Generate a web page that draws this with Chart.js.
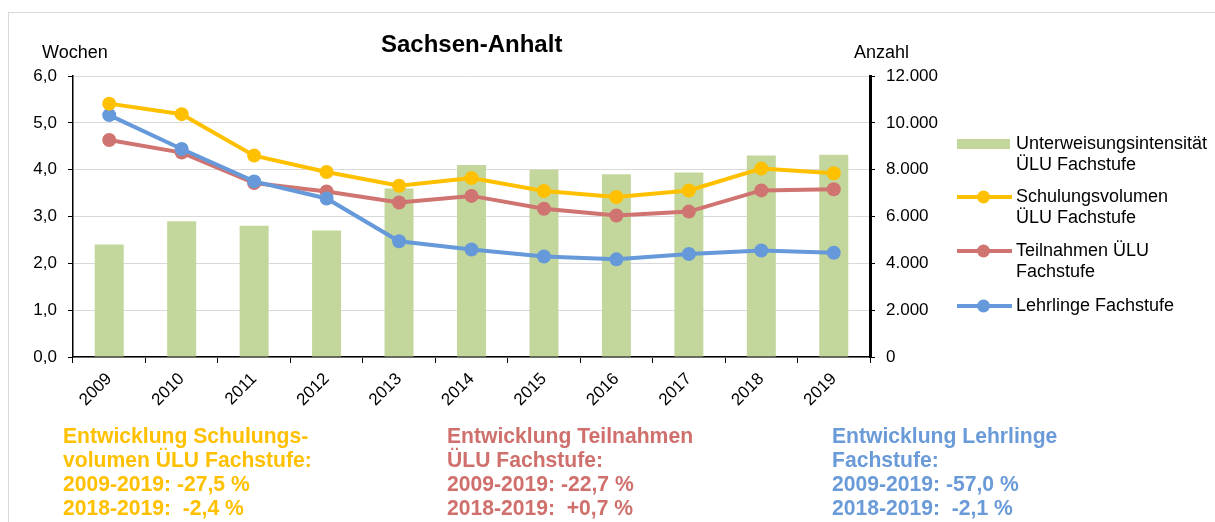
<!DOCTYPE html>
<html lang="de">
<head>
<meta charset="utf-8">
<script src="https://cdn.jsdelivr.net/npm/chart.js@4"></script>
<style>
  body { margin: 0; background: #fff; font-family: "Liberation Sans", Arial, sans-serif; }
  #wrap { position: relative; width: 1215px; height: 522px; overflow: hidden; }
  #chart { position: absolute; left: 0; top: 0; }
  .frame { position: absolute; left: 8px; top: 12px; width: 1300px; height: 600px;
           border-left: 1px solid #d9d9d9; border-top: 1px solid #d9d9d9; }
  .lbl { position: absolute; font-size: 18px; line-height: 18px; color: #000; white-space: nowrap; }
  .title { position: absolute; left: 381px; top: 32px; font-size: 24px; line-height: 24px; font-weight: bold; }
  .legend { position: absolute; left: 957px; top: 0; font-size: 18px; line-height: 20.7px; }
  .item { position: absolute; left: 0; white-space: nowrap; }
  .item svg { position: absolute; left: 0; top: 0; }
  .item span { position: absolute; left: 59px; top: 0; }
  .note { position: absolute; top: 424px; font-weight: bold; font-size: 22px; line-height: 24px;
          white-space: nowrap; transform: scaleX(0.96); transform-origin: left top; }
</style>
</head>
<body>
<div id="wrap">
  <div class="frame"></div>
  <canvas id="chart" width="1215" height="522"></canvas>
  <div class="title">Sachsen-Anhalt</div>
  <div class="lbl" style="left:42px;top:43px;">Wochen</div>
  <div class="lbl" style="left:854px;top:43px;">Anzahl</div>
  <div class="legend" id="legend"></div>
  <div class="note" style="left:63px;color:#FFC000;">Entwicklung Schulungs-<br>volumen ÜLU Fachstufe:<br>2009-2019: -27,5 %<br>2018-2019: &nbsp;-2,4 %</div>
  <div class="note" style="left:447px;color:#CF706D;">Entwicklung Teilnahmen<br>ÜLU Fachstufe:<br>2009-2019: -22,7 %<br>2018-2019: &nbsp;+0,7 %</div>
  <div class="note" style="left:832px;color:#6A9BD8;">Entwicklung Lehrlinge<br>Fachstufe:<br>2009-2019: -57,0 %<br>2018-2019: &nbsp;-2,1 %</div>
</div>
<script>
// Data
const years = ['2009', '2010', '2011', '2012', '2013', '2014', '2015', '2016', '2017', '2018', '2019'];
const intensitaet = [2.4, 2.9, 2.8, 2.7, 3.6, 4.1, 4.0, 3.9, 3.94, 4.3, 4.32];      // Wochen
const schulungsvolumen = [10820, 10370, 8600, 7900, 7310, 7640, 7090, 6830, 7110, 8045, 7850];
const teilnahmen = [9270, 8730, 7430, 7070, 6600, 6880, 6330, 6040, 6210, 7115, 7165];
const lehrlinge = [10330, 8880, 7500, 6770, 4940, 4590, 4290, 4170, 4400, 4545, 4450];

const GREEN = '#C3D69B', YELLOW = '#FFC000', RED = '#CF7471', BLUE = '#6699D9';

const deNum = v => String(v).replace(/\B(?=(\d{3})+(?!\d))/g, '.');
const tickFont = { family: 'Liberation Sans', size: 17 };

function lineSet(label, data, color, order) {
  return {
    type: 'line', label, data, yAxisID: 'yR', order,
    borderColor: color, backgroundColor: color, borderWidth: 4,
    pointRadius: 7, pointBorderWidth: 0, pointBackgroundColor: color, tension: 0
  };
}

new Chart(document.getElementById('chart'), {
  type: 'bar',
  data: {
    labels: years,
    datasets: [
      lineSet('Schulungsvolumen ÜLU Fachstufe', schulungsvolumen, YELLOW, 0),
      lineSet('Lehrlinge Fachstufe', lehrlinge, BLUE, 1),
      lineSet('Teilnahmen ÜLU Fachstufe', teilnahmen, RED, 2),
      {
        type: 'bar', label: 'Unterweisungsintensität ÜLU Fachstufe', data: intensitaet,
        yAxisID: 'yL', order: 3, backgroundColor: GREEN,
        categoryPercentage: 1, barPercentage: 0.4
      }
    ]
  },
  options: {
    responsive: false,
    animation: false,
    layout: { padding: { top: 76, left: 0, right: 0, bottom: 0 } },
    plugins: { legend: { display: false }, tooltip: { enabled: false } },
    scales: {
      x: {
        offset: true,
        grid: { offset: true, drawOnChartArea: false, tickLength: 6, tickColor: '#000' },
        border: { color: '#000', width: 1.5 },
        ticks: { font: tickFont, color: '#000', minRotation: 45, maxRotation: 45, padding: 6 },
        afterFit: s => { s.height = 165; }
      },
      yL: {
        position: 'left', min: 0, max: 6,
        grid: { color: '#D9D9D9', tickLength: 5, tickColor: '#000' },
        border: { color: '#000', width: 1.5 },
        ticks: { stepSize: 1, font: tickFont, color: '#000', padding: 11,
                 callback: v => v.toFixed(1).replace('.', ',') },
        afterFit: s => { s.width = 73; }
      },
      yR: {
        position: 'right', min: 0, max: 12000,
        grid: { drawOnChartArea: false, tickLength: 5, tickColor: '#000' },
        border: { color: '#000', width: 3 },
        ticks: { stepSize: 2000, font: tickFont, color: '#000', padding: 11,
                 callback: v => deNum(v) },
        afterFit: s => { s.width = 1215 - 870; }
      }
    }
  }
});

// legend with wrapped labels
const legendItems = [
  { top: 133, kind: 'box', color: GREEN, text: 'Unterweisungsintensität<br>ÜLU Fachstufe' },
  { top: 186, kind: 'line', color: YELLOW, text: 'Schulungsvolumen<br>ÜLU Fachstufe' },
  { top: 240, kind: 'line', color: RED, text: 'Teilnahmen ÜLU<br>Fachstufe' },
  { top: 295, kind: 'line', color: BLUE, text: 'Lehrlinge Fachstufe' }
];
const legend = document.getElementById('legend');
legendItems.forEach(it => {
  const d = document.createElement('div');
  d.className = 'item';
  d.style.top = it.top + 'px';
  const mark = it.kind === 'box'
    ? `<rect x="0" y="6" width="53" height="10" fill="${it.color}"/>`
    : `<line x1="0" y1="11" x2="55" y2="11" stroke="${it.color}" stroke-width="4"/><circle cx="26.5" cy="11" r="6.5" fill="${it.color}"/>`;
  d.innerHTML = `<svg width="58" height="22">${mark}</svg><span>${it.text}</span>`;
  legend.appendChild(d);
});
</script>
</body>
</html>
